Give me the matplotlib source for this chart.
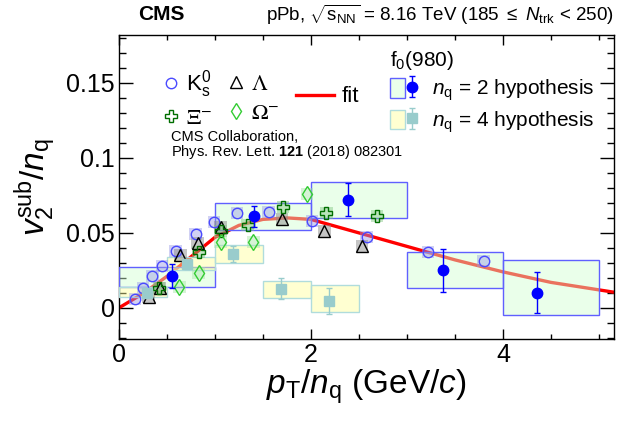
import matplotlib.pyplot as plt
from matplotlib.patches import Rectangle
from matplotlib.ticker import MultipleLocator
from matplotlib.legend_handler import HandlerTuple

plt.rcParams['font.family'] = ['Liberation Sans', 'DejaVu Sans']
plt.rcParams['mathtext.fontset'] = 'custom'
plt.rcParams['mathtext.rm'] = 'Liberation Sans'
plt.rcParams['mathtext.it'] = 'Liberation Sans:italic'
plt.rcParams['mathtext.bf'] = 'Liberation Sans:bold'

# K0s
ks_x = [0.17, 0.25, 0.35, 0.45, 0.59, 0.80, 0.99, 1.23, 1.56, 2.01, 2.58, 3.22, 3.80]
ks_y = [0.006, 0.013, 0.021, 0.028, 0.038, 0.049, 0.057, 0.063, 0.064, 0.058, 0.047, 0.037, 0.031]
# Lambda
lam_x = [0.31, 0.43, 0.64, 0.82, 1.06, 1.70, 2.14, 2.53]
lam_y = [0.007, 0.013, 0.035, 0.043, 0.054, 0.059, 0.051, 0.041]
# Xi-
xi_x = [0.42, 0.83, 1.06, 1.34, 1.71, 2.16, 2.69]
xi_y = [0.013, 0.037, 0.051, 0.055, 0.067, 0.063, 0.061]
# Omega-
om_x = [0.63, 0.83, 1.06, 1.40, 1.96]
om_y = [0.014, 0.023, 0.044, 0.044, 0.076]

# f0(980), nq = 2
f2_x = [0.55, 1.41, 2.39, 3.375, 4.36]
f2_y = [0.021, 0.061, 0.072, 0.025, 0.010]
f2_stat = [0.008, 0.007, 0.011, 0.0143, 0.0137]
f2_xlo = [0.0, 1.0, 2.0, 3.0, 4.0]
f2_xhi = [1.0, 2.0, 3.0, 4.0, 5.0]
f2_blo = [0.014, 0.052, 0.060, 0.013, -0.005]
f2_bhi = [0.027, 0.070, 0.084, 0.037, 0.032]

# f0(980), nq = 4
f4_x = [0.29, 0.71, 1.19, 1.69, 2.19]
f4_y = [0.010, 0.029, 0.036, 0.0127, 0.0047]
f4_stat = [0.002, 0.003, 0.0055, 0.007, 0.0087]
f4_xlo = [0.0, 0.5, 1.0, 1.5, 2.0]
f4_xhi = [0.5, 1.0, 1.5, 2.0, 2.5]
f4_blo = [0.0073, 0.025, 0.030, 0.0067, -0.0027]
f4_bhi = [0.014, 0.034, 0.042, 0.018, 0.0153]

# fit curve
fit_x = [0, 0.25, 0.5, 0.75, 1.0, 1.25, 1.5, 1.75, 2.0, 2.5, 3.0, 3.5, 4.0, 4.5, 5.2]
fit_y = [0, 0.0095, 0.021, 0.034, 0.047, 0.055, 0.059, 0.060, 0.059, 0.050, 0.041,
         0.032, 0.024, 0.017, 0.010]

yticks = [0, 0.05, 0.1, 0.15]
ytick_labels = ['0', '0.05', '0.1', '0.15']
xticks = [0, 2, 4]


def sys_boxes(ax, xs, ys, face, hw=0.065, hh=0.004):
    for x, y in zip(xs, ys):
        ax.add_patch(Rectangle((x - hw, y - hh), 2 * hw, 2 * hh, facecolor=face,
                               edgecolor='none', zorder=4))


fig = plt.figure(figsize=(6.29, 4.21), dpi=100)
ax = fig.add_axes([0.189, 0.195, 0.787, 0.722])

ax.plot(fit_x, fit_y, color='#ff0000', lw=2.4, zorder=2)

for lo, hi, blo, bhi in zip(f2_xlo, f2_xhi, f2_blo, f2_bhi):
    ax.add_patch(Rectangle((lo, blo), hi - lo, bhi - blo, facecolor=(0.82, 1, 0.82, 0.45),
                           edgecolor='#6060ff', lw=1.0, zorder=3))
for lo, hi, blo, bhi in zip(f4_xlo, f4_xhi, f4_blo, f4_bhi):
    ax.add_patch(Rectangle((lo, blo), hi - lo, bhi - blo, facecolor=(1, 1, 0.6, 0.45),
                           edgecolor='#b0dcdc', lw=1.0, zorder=3))

sys_boxes(ax, ks_x, ks_y, (0.6, 0.6, 0.9, 0.45))
sys_boxes(ax, lam_x, lam_y, (0.55, 0.55, 0.55, 0.5))
sys_boxes(ax, xi_x, xi_y, (0.5, 0.78, 0.5, 0.45))
sys_boxes(ax, om_x, om_y, (0.65, 0.9, 0.65, 0.45))

h_ks, = ax.plot(ks_x, ks_y, 'o', ms=7.5, mfc='none', mec='#4a4aff', mew=1.0, zorder=5)
h_lam, = ax.plot(lam_x, lam_y, '^', ms=8, mfc='none', mec='black', mew=1.0, zorder=5)
h_xi, = ax.plot(xi_x, xi_y, 'P', ms=9, mfc='none', mec='#006e00', mew=1.0, zorder=5)
h_om, = ax.plot(om_x, om_y, 'd', ms=8, mfc='none', mec='#33cc33', mew=1.0, zorder=5)

e2 = ax.errorbar(f2_x, f2_y, yerr=f2_stat, fmt='o', ms=7.5, color='#0000ff',
                 elinewidth=1.0, capsize=2.5, capthick=1.0, zorder=6)
e4 = ax.errorbar(f4_x, f4_y, yerr=f4_stat, fmt='s', ms=7, color='#99cccc',
                 elinewidth=1.0, capsize=2.5, capthick=1.0, zorder=6)

ax.set_xlim(0, 5.156)
ax.set_ylim(-0.0207, 0.182)
ax.set_xticks(xticks)
ax.set_yticks(yticks)
ax.set_yticklabels(ytick_labels)
ax.xaxis.set_minor_locator(MultipleLocator(0.5))
ax.yaxis.set_minor_locator(MultipleLocator(0.01))
ax.tick_params(which='both', direction='in', top=True, right=True, width=1.0, labelsize=18)
ax.tick_params(axis='x', which='major', length=7, pad=3)
ax.tick_params(axis='x', which='minor', length=3.5)
ax.tick_params(axis='y', which='major', length=10, pad=3)
ax.tick_params(axis='y', which='minor', length=5)
for s in ax.spines.values():
    s.set_linewidth(1.0)

ax.set_xlabel(r'$p_{\mathrm{T}}/n_{\mathrm{q}}$ (GeV/$c$)', fontsize=24)
ax.set_ylabel(r'$v_{2}^{\mathrm{sub}}/n_{\mathrm{q}}$', fontsize=24)
ax.xaxis.set_label_coords(0.5, -0.095)
ax.yaxis.set_label_coords(-0.12, 0.5)

ax.text(0.038, 1.066, 'CMS', transform=ax.transAxes, fontsize=15, weight='bold',
        ha='left', va='center')
ax.text(1.0, 1.066, r'pPb, $\sqrt{\mathrm{s}_{\mathrm{NN}}}$ = 8.16 TeV (185 $\leq$ $N_{\mathrm{trk}}$ < 250)',
        transform=ax.transAxes, fontsize=13.5, ha='right', va='center')
ax.text(0.105, 0.664, 'CMS Collaboration,', transform=ax.transAxes, fontsize=10.5,
        ha='left', va='center')
ax.text(0.105, 0.615, r'Phys. Rev. Lett. $\mathbf{121}$ (2018) 082301', transform=ax.transAxes,
        fontsize=10.5, ha='left', va='center')

common = dict(frameon=False, borderpad=0, borderaxespad=0, loc='center left')
leg1 = ax.legend([h_ks, h_xi], [r'K$_{\mathrm{s}}^{0}$', r'$\Xi^{-}$'], fontsize=16,
                 bbox_to_anchor=(0.087, 0.79), handlelength=0.8, handletextpad=0.3,
                 labelspacing=0.35, **common)
leg1.get_texts()[1].set_math_fontfamily('stix')
ax.add_artist(leg1)
leg2 = ax.legend([h_lam, h_om], [r'$\Lambda$', r'$\Omega^{-}$'], fontsize=16,
                 bbox_to_anchor=(0.218, 0.79), handlelength=0.8, handletextpad=0.3,
                 labelspacing=0.35, **common)
for t in leg2.get_texts():
    t.set_math_fontfamily('stix')
ax.add_artist(leg2)
fit_line = plt.Line2D([], [], color='#ff0000', lw=2.4)
leg3 = ax.legend([fit_line], ['fit'], fontsize=16, bbox_to_anchor=(0.358, 0.796),
                 handlelength=1.7, handletextpad=0.36, **common)
ax.add_artist(leg3)

p2 = Rectangle((0, 0), 1, 1, facecolor=(0.82, 1, 0.82, 0.45), edgecolor='#6060ff', lw=1.0)
p4 = Rectangle((0, 0), 1, 1, facecolor=(1, 1, 0.6, 0.45), edgecolor='#b0dcdc', lw=1.0)
leg4 = ax.legend([(p2, e2), (p4, e4)],
                 [r'$n_{\mathrm{q}}$ = 2 hypothesis', r'$n_{\mathrm{q}}$ = 4 hypothesis'],
                 handler_map={tuple: HandlerTuple(ndivide=None)},
                 title=r'f$_{0}$(980)', title_fontsize=15, fontsize=15, alignment='left',
                 frameon=False, borderpad=0, borderaxespad=0, loc='upper left',
                 bbox_to_anchor=(0.548, 0.955), handlelength=1.4, handleheight=1.06,
                 handletextpad=0.62, labelspacing=0.3)

fig.savefig('out.png', dpi=100)
